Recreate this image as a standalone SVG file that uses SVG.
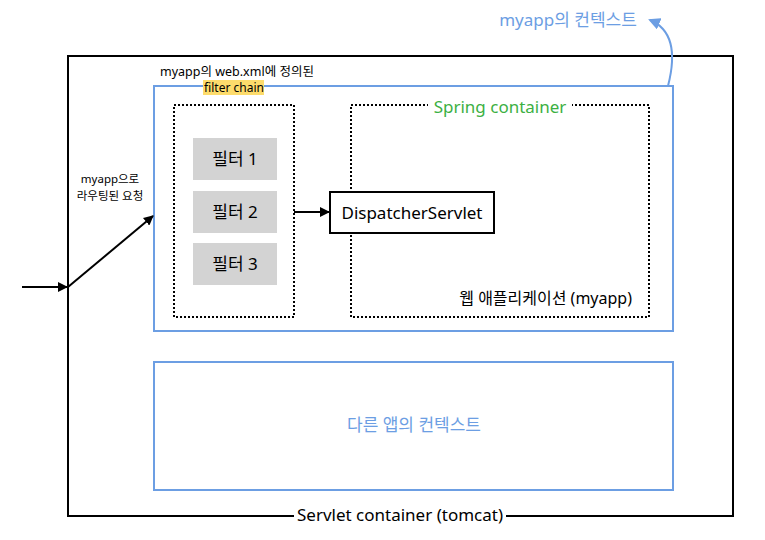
<svg xmlns="http://www.w3.org/2000/svg" width="765" height="540" viewBox="0 0 765 540">
<style>
text{font-family:"Noto Sans","Noto Sans CJK KR",sans-serif;fill:#000}
.blue{fill:none;stroke:#6c9ee3;stroke-width:2}
.dot{fill:none;stroke:#000;stroke-width:2;stroke-dasharray:2 2}
.filter{fill:#d3d3d3}
.ln{fill:none;stroke:#000;stroke-width:2}
</style>
<defs>
<marker id="ah" markerWidth="10" markerHeight="10" refX="9" refY="5" orient="auto" markerUnits="userSpaceOnUse"><path d="M0,0 L10,5 L0,10 z" fill="#000"/></marker>
<marker id="ahb" markerWidth="12" markerHeight="12" refX="10" refY="6" orient="auto" markerUnits="userSpaceOnUse"><path d="M0,0 L12,6 L0,12 z" fill="#6c9ee3"/></marker>
</defs>
<rect width="765" height="540" fill="#fff"/>
<g id="servlet-container">
<rect x="68" y="56" width="665" height="460" fill="none" stroke="#000" stroke-width="2"/>
<rect x="294" y="505" width="212" height="22" fill="#fff"/>
<text x="400" y="521" font-size="17" text-anchor="middle">Servlet container (tomcat)</text>
</g>
<g id="myapp-context">
<rect class="blue" x="154" y="86" width="519" height="245"/>
</g>
<g id="other-context">
<rect class="blue" x="154" y="362" width="519" height="128"/>
<text x="414" y="431" font-size="17" text-anchor="middle" style="fill:#6c9ee3">다른 앱의 컨텍스트</text>
</g>
<g id="filter-chain">
<rect class="dot" x="174" y="105" width="120" height="212"/>
<text x="160" y="76" font-size="12.5">myapp의 web.xml에 정의된</text>
<rect x="203" y="80" width="61" height="15" fill="#fddc6c"/>
<text x="204" y="92" font-size="12">filter chain</text>
</g>
<g id="filter1"><rect class="filter" x="193" y="138" width="84" height="42"/><text x="235" y="165" font-size="17" text-anchor="middle">필터 1</text></g>
<g id="filter2"><rect class="filter" x="193" y="191" width="84" height="42"/><text x="235" y="218" font-size="17" text-anchor="middle">필터 2</text></g>
<g id="filter3"><rect class="filter" x="193" y="243" width="84" height="42"/><text x="235" y="270" font-size="17" text-anchor="middle">필터 3</text></g>
<g id="spring-container">
<rect class="dot" x="351" y="105" width="298" height="212"/>
<rect x="428" y="95" width="144" height="22" fill="#fff"/>
<text x="500" y="113" font-size="17" text-anchor="middle" style="fill:#3cb043">Spring container</text>
<text x="632" y="304" font-size="16" text-anchor="end">웹 애플리케이션 (myapp)</text>
</g>
<g id="dispatcher">
<rect x="330" y="192" width="164" height="41" fill="#fff" stroke="#000" stroke-width="2"/>
<text x="412" y="219" font-size="17" text-anchor="middle">DispatcherServlet</text>
</g>
<g id="labels">
<text x="110" y="183" font-size="11.5" text-anchor="middle">myapp으로</text>
<text x="110" y="200" font-size="11.5" text-anchor="middle">라우팅된 요청</text>
<text x="568" y="26" font-size="17" text-anchor="middle" style="fill:#6c9ee3">myapp의 컨텍스트</text>
</g>
<g id="connectors">
<line class="ln" x1="22" y1="287" x2="67" y2="287" marker-end="url(#ah)"/>
<line class="ln" x1="68" y1="287" x2="153" y2="216" marker-end="url(#ah)"/>
<line class="ln" x1="294" y1="212" x2="329" y2="212" marker-end="url(#ah)"/>
<path d="M668,86 C676,55 674,30 650,20" fill="none" stroke="#6c9ee3" stroke-width="2" marker-end="url(#ahb)"/>
</g>
</svg>
